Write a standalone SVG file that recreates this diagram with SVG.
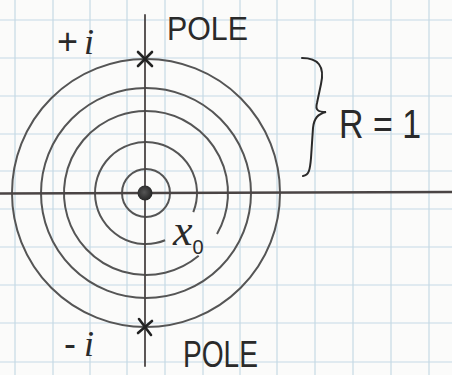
<svg xmlns="http://www.w3.org/2000/svg" width="452" height="375" viewBox="0 0 452 375">
  <defs>
    <style>
      .grid line { stroke: #c6dae5; stroke-width: 1.2; }
      .ring { fill: none; stroke: #555; stroke-width: 2; }
      .axis { stroke: #4a4444; stroke-linecap: round; }
      .pen { font-family: "Liberation Sans", "DejaVu Sans", sans-serif; fill: #2a2a2a; }
      .ital { font-family: "Liberation Serif", "DejaVu Serif", serif; font-style: italic; fill: #2a2a2a; }
      .star { stroke: #222; stroke-width: 2.6; stroke-linecap: round; fill: none; }
    </style>
    <radialGradient id="dotg" cx="0.45" cy="0.45" r="0.6">
      <stop offset="0" stop-color="#555"/>
      <stop offset="1" stop-color="#222"/>
    </radialGradient>
  </defs>
  <rect width="452" height="375" fill="#fbfbfa"/>
  <g class="grid" id="grid">
    <line x1="15" y1="0" x2="15" y2="375"/>
    <line x1="53" y1="0" x2="53" y2="375"/>
    <line x1="90" y1="0" x2="90" y2="375"/>
    <line x1="127" y1="0" x2="127" y2="375"/>
    <line x1="165" y1="0" x2="165" y2="375"/>
    <line x1="203" y1="0" x2="203" y2="375"/>
    <line x1="240" y1="0" x2="240" y2="375"/>
    <line x1="277" y1="0" x2="277" y2="375"/>
    <line x1="315" y1="0" x2="315" y2="375"/>
    <line x1="353" y1="0" x2="353" y2="375"/>
    <line x1="391" y1="0" x2="391" y2="375"/>
    <line x1="429" y1="0" x2="429" y2="375"/>
    <line x1="0" y1="20" x2="452" y2="20"/>
    <line x1="0" y1="58" x2="452" y2="58"/>
    <line x1="0" y1="96" x2="452" y2="96"/>
    <line x1="0" y1="134" x2="452" y2="134"/>
    <line x1="0" y1="171" x2="452" y2="171"/>
    <line x1="0" y1="209" x2="452" y2="209"/>
    <line x1="0" y1="247" x2="452" y2="247"/>
    <line x1="0" y1="285" x2="452" y2="285"/>
    <line x1="0" y1="323" x2="452" y2="323"/>
    <line x1="0" y1="362" x2="452" y2="362"/>
  </g>
  <g id="rings">
    <circle class="ring" cx="146" cy="193" r="134"/>
    <circle class="ring" cx="146" cy="193" r="105"/>
    <path class="ring" d="M198.7,255.8 A82,82 0 1 1 217.0,234.0"/>
    <path class="ring" d="M165.1,240.3 A51,51 0 1 1 193.3,212.1"/>
    <circle class="ring" cx="146" cy="193" r="24"/>
  </g>
  <g id="axes">
    <line class="axis" x1="0" y1="193.5" x2="452" y2="192" stroke-width="2.4"/>
    <line class="axis" x1="145" y1="15" x2="145" y2="366" stroke-width="1.8"/>
  </g>
  <g id="center">
    <circle cx="145" cy="193" r="7.5" fill="url(#dotg)"/>
  </g>
  <g id="pole-top">
    <path class="star" d="M138,52 L152,66 M152,52 L138,66"/>
    <text class="pen" x="167" y="40" font-size="34" textLength="81" lengthAdjust="spacingAndGlyphs">POLE</text>
  </g>
  <g id="pole-bottom">
    <path class="star" d="M139,319 L151,335 M152,321 L138,333"/>
    <text class="pen" x="183" y="367" font-size="36" textLength="75" lengthAdjust="spacingAndGlyphs">POLE</text>
  </g>
  <g id="label-plus-i">
    <text class="ital" x="57" y="54" font-size="36"><tspan font-style="normal" font-family="Liberation Sans, sans-serif">+</tspan><tspan dx="6">i</tspan></text>
  </g>
  <g id="label-minus-i">
    <text class="ital" x="64" y="356" font-size="36"><tspan font-style="normal" font-family="Liberation Sans, sans-serif">-</tspan><tspan dx="8">i</tspan></text>
  </g>
  <g id="label-x0">
    <text class="ital" x="173" y="245" font-size="44">x<tspan font-style="normal" font-family="Liberation Sans, sans-serif" font-size="20" dy="9">0</tspan></text>
  </g>
  <g id="radius">
    <path d="M302,58 C318,58 325,66 321,84 L317,103 C315,110 318,112 326,112 C318,114 314,118 313,128 L311,158 C310,170 309,175 303,176" fill="none" stroke="#2a2a2a" stroke-width="2" stroke-linecap="round"/>
    <text class="pen" x="339" y="138" font-size="40" textLength="82" lengthAdjust="spacingAndGlyphs">R = 1</text>
  </g>
</svg>
